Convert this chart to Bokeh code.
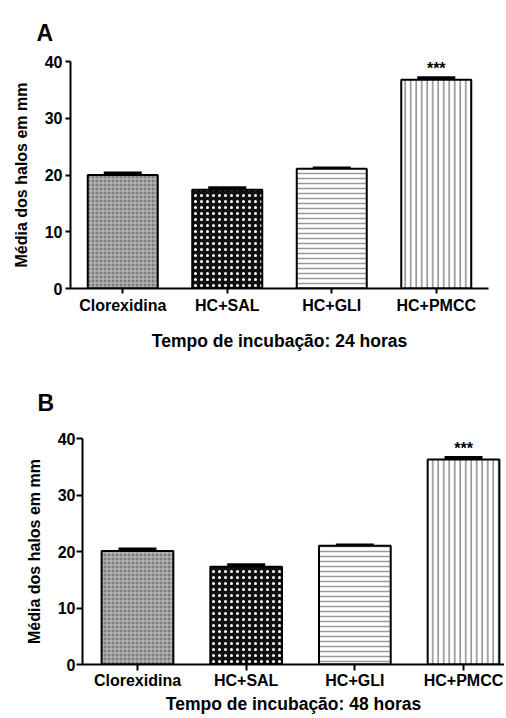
from bokeh.plotting import figure
from bokeh.layouts import column
from bokeh.models import Range1d, FixedTicker, ColumnDataSource, Whisker, TeeHead
from bokeh.core.properties import value
from bokeh.embed import file_html
from bokeh.resources import INLINE

# ---- data ----
categories = ["Clorexidina", "HC+SAL", "HC+GLI", "HC+PMCC"]
means_24h = [20.0, 17.4, 21.1, 36.8]
sem_24h = [0.3, 0.3, 0.1, 0.3]
means_48h = [20.1, 17.3, 21.0, 36.3]
sem_48h = [0.3, 0.3, 0.1, 0.3]
significance = ["", "", "", "***"]
y_ticks = [0, 10, 20, 30, 40]
panel_letters = ["A", "B"]
x_titles = ["Tempo de incubação: 24 horas", "Tempo de incubação: 48 horas"]
y_title = "Média dos halos em mm"

FONT = "Liberation Sans"

bar_styles = [
    dict(fill_color="#7c7c7c", hatch_pattern="cross", hatch_color="#c4c4c4", hatch_scale=4, hatch_weight=1),
    dict(fill_color="#111111", hatch_pattern="dot", hatch_color="#ffffff", hatch_scale=6, hatch_weight=3.5),
    dict(fill_color="#ffffff", hatch_pattern="horizontal_line", hatch_color="#9a9a9a", hatch_scale=5, hatch_weight=1.5),
    dict(fill_color="#ffffff", hatch_pattern="vertical_line", hatch_color="#8a8a8a", hatch_scale=5.5, hatch_weight=1.5),
]


def make_panel(letter, means, sems, xtitle, width, height, left, right, top, bottom,
               x_range, bar_w, tick_out, lab_std, xlab_std, ylab_std, title_off, title_std):
    p = figure(width=width, height=height, output_backend="svg", toolbar_location=None,
               x_range=x_range, y_range=Range1d(0, 40),
               min_border_left=left, min_border_right=right,
               min_border_top=top, min_border_bottom=bottom,
               title=letter, frame_align=False)
    p.title.text_font = FONT
    p.title.text_font_size = "23px"
    p.title.text_font_style = "bold"
    p.title.text_color = "black"
    p.title.align = "left"
    p.title.offset = title_off
    p.title.standoff = title_std
    p.outline_line_color = None
    p.grid.visible = False

    idx = list(range(len(categories)))
    for i in idx:
        p.vbar(x=[i], top=[means[i]], bottom=0, width=bar_w,
               line_color="black", line_width=2, **bar_styles[i])

    src = ColumnDataSource(dict(
        x=idx,
        lower=means,
        upper=[m + s for m, s in zip(means, sems)],
        star=significance,
    ))
    p.add_layout(Whisker(base="x", lower="lower", upper="upper", source=src,
                         line_color="black", line_width=2,
                         lower_head=None,
                         upper_head=TeeHead(size=38, line_width=3.5, line_color="black")))
    p.text(x="x", y="upper", text="star", source=src, text_align="center",
           text_baseline="bottom", y_offset=-1, text_font=value(FONT),
           text_font_size="16px", text_font_style="bold", text_color="black")

    for ax in (p.xaxis, p.yaxis):
        ax.axis_line_width = 2
        ax.axis_line_color = "black"
        ax.major_tick_line_width = 2
        ax.major_tick_line_color = "black"
        ax.major_tick_in = 0
        ax.major_tick_out = tick_out
        ax.minor_tick_line_color = None
        ax.major_label_text_font = FONT
        ax.major_label_text_font_size = "16px"
        ax.major_label_text_font_style = "bold"
        ax.major_label_text_color = "black"
        ax.axis_label_text_font = FONT
        ax.axis_label_text_font_style = "bold"
        ax.axis_label_text_color = "black"
        ax.major_label_standoff = lab_std

    p.xaxis.ticker = FixedTicker(ticks=idx)
    p.xaxis.major_label_overrides = {i: c for i, c in enumerate(categories)}
    p.xaxis.axis_label = xtitle
    p.xaxis.axis_label_text_font_size = "17.5px"
    p.xaxis.axis_label_standoff = xlab_std

    p.yaxis.ticker = FixedTicker(ticks=y_ticks)
    p.yaxis.axis_label = y_title
    p.yaxis.axis_label_text_font_size = "16px"
    p.yaxis.axis_label_standoff = ylab_std
    return p


pa = make_panel(panel_letters[0], means_24h, sem_24h, x_titles[0],
                width=500, height=358, left=70, right=12, top=61, bottom=70,
                x_range=Range1d(-0.5, 3.5), bar_w=0.67, tick_out=5,
                lab_std=3, xlab_std=14, ylab_std=12, title_off=-34, title_std=32)
pb = make_panel(panel_letters[1], means_48h, sem_48h, x_titles[1],
                width=504, height=358, left=82, right=0, top=80, bottom=52,
                x_range=Range1d(-0.506, 3.377), bar_w=0.66, tick_out=6,
                lab_std=1, xlab_std=2, ylab_std=12, title_off=-45, title_std=46)

layout = column(pa, pb)
open("out.html", "w").write(file_html(layout, INLINE))
